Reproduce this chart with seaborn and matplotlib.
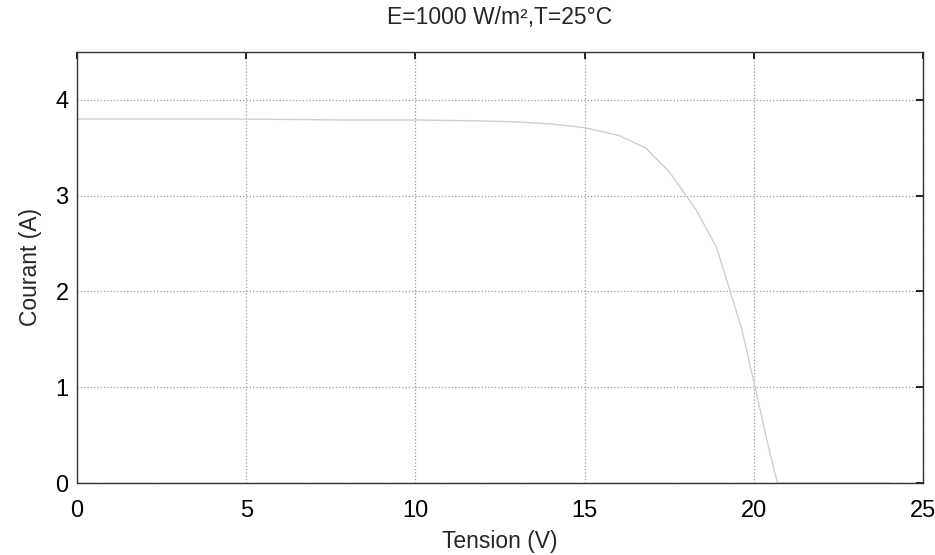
import matplotlib
matplotlib.use("Agg")
import matplotlib.pyplot as plt
import seaborn as sns
import pandas as pd

# I-V curve data
tension = [0.0, 2.0, 5.0, 8.0, 10.0, 12.0, 13.0, 14.0, 15.0, 16.0, 16.8,
           17.5, 18.3, 18.9, 19.65, 20.1, 20.45, 20.7, 22.0, 24.0]
courant = [3.80, 3.80, 3.80, 3.79, 3.79, 3.78, 3.77, 3.75, 3.71, 3.63, 3.50,
           3.25, 2.85, 2.46, 1.60, 0.90, 0.35, 0.0, 0.0, 0.0]

x_ticks = [0, 5, 10, 15, 20, 25]
y_ticks = [0, 1, 2, 3, 4]
title = "E=1000 W/m²,T=25°C"
xlabel = "Tension (V)"
ylabel = "Courant (A)"

df = pd.DataFrame({"Tension": tension, "Courant": courant})

sns.set_style("white")
plt.rcParams["font.family"] = ["Liberation Sans", "DejaVu Sans"]

fig = plt.figure(figsize=(9.35, 5.55), dpi=100)
ax = fig.add_axes([77 / 935, 72 / 555, 846 / 935, 431 / 555])

sns.lineplot(data=df, x="Tension", y="Courant", ax=ax, color="#cfcfcf",
             linewidth=1.0, sort=False)

ax.set_xlim(0, 25)
ax.set_ylim(0, 4.5)
ax.set_xticks(x_ticks)
ax.set_yticks(y_ticks)
ax.grid(True, linestyle=":", color="#9a9a9a", linewidth=0.9)
ax.tick_params(direction="in", length=5, width=1.2, top=True, right=True,
               labelsize=17, colors="black")
ax.tick_params(axis="x", pad=12)
ax.tick_params(axis="y", pad=6)
for s in ax.spines.values():
    s.set_color("#333333")
    s.set_linewidth(1.0)
    s.set_visible(True)

ax.set_title(title, fontsize=16.5, pad=20)
ax.set_xlabel(xlabel, fontsize=16.5, labelpad=6)
ax.set_ylabel(ylabel, fontsize=16.5, labelpad=10)

fig.savefig("out.png", dpi=100)
